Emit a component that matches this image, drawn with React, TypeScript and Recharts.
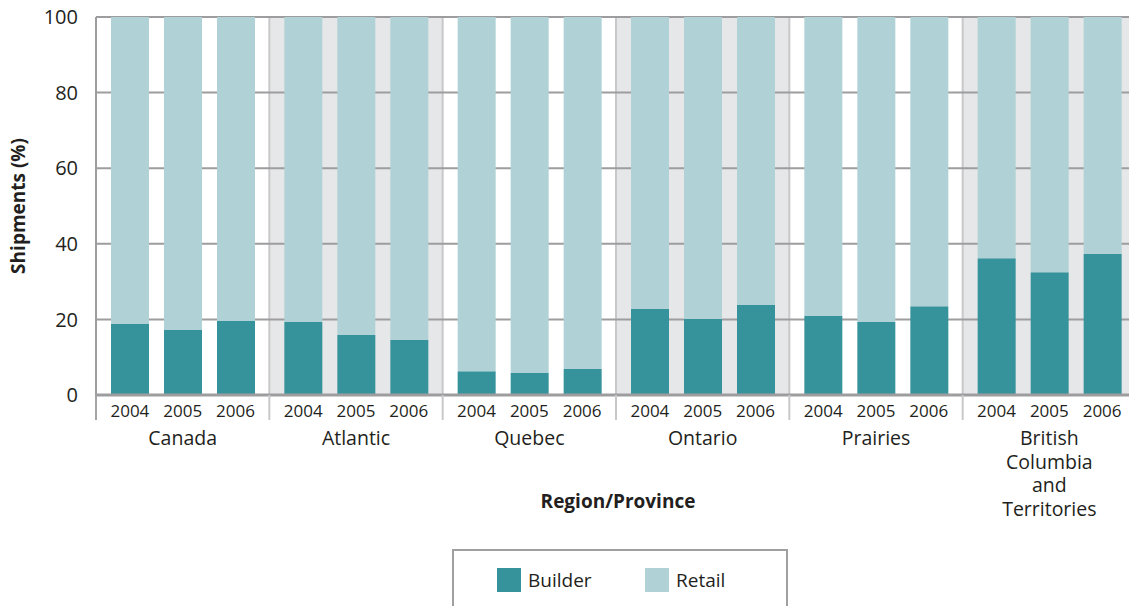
import React from "react";
import {
  BarChart,
  Bar,
  XAxis,
  YAxis,
  CartesianGrid,
  Legend,
  Label,
  ReferenceArea,
} from "recharts";

// values (percent of shipments)
const REGIONS = ["Canada", "Atlantic", "Quebec", "Ontario", "Prairies", "British Columbia and Territories"];
const REGION_LINES = [["Canada"], ["Atlantic"], ["Quebec"], ["Ontario"], ["Prairies"], ["British", "Columbia", "and", "Territories"]];
const YEARS = ["2004", "2005", "2006"];
const SHADED_REGIONS = ["Atlantic", "Ontario", "British Columbia and Territories"];

const BUILDER_2004 = [18.8, 19.3, 6.3, 22.8, 20.9, 36.2];
const BUILDER_2005 = [17.2, 15.9, 5.8, 20.1, 19.3, 32.5];
const BUILDER_2006 = [19.6, 14.6, 6.9, 23.8, 23.5, 37.3];
const RETAIL_2004 = [81.2, 80.7, 93.7, 77.2, 79.1, 63.8];
const RETAIL_2005 = [82.8, 84.1, 94.2, 79.9, 80.7, 67.5];
const RETAIL_2006 = [80.4, 85.4, 93.1, 76.2, 76.5, 62.7];

const Y_TICKS = [0, 20, 40, 60, 80, 100];

const BUILDER_COLOR = "#36939b";
const RETAIL_COLOR = "#b0d2d6";
const BAND_GREY = "#e6e7e8";
const TEXT = "#231f20";
const FONT = "'Open Sans', sans-serif";

// layout
const CHART_W = 1150;
const CHART_H = 620;
const MARGIN = { top: 17, right: 14, left: 26, bottom: 25 };
const Y_AXIS_W = 70;
const X_AXIS_H = 200;
const PLOT_LEFT = MARGIN.left + Y_AXIS_W;
const PLOT_W = CHART_W - PLOT_LEFT - MARGIN.right;
const BAND = PLOT_W / REGIONS.length;
const GAP = 15;
const BAR_W = (BAND - 4 * GAP) / YEARS.length;
const STEP = BAR_W + GAP;

const data = REGIONS.map((region, i) => ({
  region,
  b2004: BUILDER_2004[i],
  r2004: RETAIL_2004[i],
  b2005: BUILDER_2005[i],
  r2005: RETAIL_2005[i],
  b2006: BUILDER_2006[i],
  r2006: RETAIL_2006[i],
}));

// separators between regions
const groupEdges = REGIONS.map((_, i) => PLOT_LEFT + i * BAND);

const XTick = (props: any) => {
  const { x, y, index } = props;
  const lines = REGION_LINES[index] || [];
  return (
    <g>
      <line
        x1={x - BAND / 2}
        x2={x - BAND / 2}
        y1={y}
        y2={y + 25}
        stroke={index === 0 ? "#a4a4a6" : "#c8c8ca"}
        strokeWidth={2}
      />
      {YEARS.map((yr, i) => (
        <text
          key={yr}
          x={x + (i - 1) * STEP}
          y={y + 22}
          textAnchor="middle"
          fontSize={17}
          fill={TEXT}
          fontFamily={FONT}
        >
          {yr}
        </text>
      ))}
      {lines.map((ln, k) => (
        <text
          key={ln}
          x={x}
          y={y + 50 + k * 23.5}
          textAnchor="middle"
          fontSize={19.5}
          fill={TEXT}
          fontFamily={FONT}
        >
          {ln}
        </text>
      ))}
    </g>
  );
};

const LegendBox = (props: any) => {
  const seen: Record<string, boolean> = {};
  const items = (props.payload || []).filter((p: any) => {
    if (seen[p.value]) return false;
    seen[p.value] = true;
    return true;
  });
  return (
    <div
      style={{
        position: "relative",
        width: 336,
        height: 80,
        boxSizing: "border-box",
        border: "2.5px solid #a0a0a3",
        fontFamily: FONT,
      }}
    >
      {items.map((p: any, i: number) => (
        <div
          key={p.value}
          style={{
            position: "absolute",
            left: 43 + i * 148,
            top: 17,
            display: "flex",
            alignItems: "center",
            height: 24,
          }}
        >
          <span style={{ width: 24, height: 24, background: p.color, display: "inline-block" }} />
          <span style={{ marginLeft: 7, fontSize: 19, color: TEXT, lineHeight: "24px" }}>
            {p.value}
          </span>
        </div>
      ))}
    </div>
  );
};

export default function App() {
  return (
    <div
      style={{
        position: "fixed",
        left: 0,
        top: 0,
        width: 1129,
        height: 606,
        overflow: "hidden",
        background: "#fff",
      }}
    >
      <BarChart
        width={CHART_W}
        height={CHART_H}
        data={data}
        margin={MARGIN}
        barGap={GAP}
        barCategoryGap={GAP}
      >
        {SHADED_REGIONS.map((r) => (
          <ReferenceArea
            key={r}
            x1={r}
            x2={r}
            fill={BAND_GREY}
            fillOpacity={1}
            stroke="none"
            zIndex={-150}
          />
        ))}
        <CartesianGrid
          horizontal={false}
          verticalPoints={groupEdges}
          stroke="#c8c8ca"
          strokeWidth={2}
        />
        <CartesianGrid vertical={false} stroke="#9d9d9f" strokeWidth={2} />
        <XAxis
          dataKey="region"
          height={X_AXIS_H}
          interval={0}
          tickLine={false}
          tickSize={0}
          tickMargin={0}
          axisLine={{ stroke: "#9d9d9f", strokeWidth: 3 }}
          tick={<XTick />}
        >
          <Label
            content={() => (
              <text
                x={PLOT_LEFT + PLOT_W / 2 + 2}
                y={508}
                textAnchor="middle"
                fontSize={19}
                fontWeight="bold"
                fill={TEXT}
                fontFamily={FONT}
              >
                Region/Province
              </text>
            )}
          />
        </XAxis>
        <YAxis
          width={Y_AXIS_W}
          domain={[0, 100]}
          allowDataOverflow
          ticks={Y_TICKS}
          tickLine={false}
          tickSize={8}
          tickMargin={10}
          axisLine={{ stroke: "#9d9d9f", strokeWidth: 2 }}
          tick={{ fontSize: 20, fill: TEXT, fontFamily: FONT }}
        >
          <Label
            content={() => (
              <text
                x={25}
                y={206}
                transform="rotate(-90 25 206)"
                textAnchor="middle"
                fontSize={19}
                fontWeight="bold"
                fill={TEXT}
                fontFamily={FONT}
              >
                Shipments (%)
              </text>
            )}
          />
        </YAxis>
        <Legend
          layout="vertical"
          align="center"
          verticalAlign="middle"
          content={<LegendBox />}
          wrapperStyle={{ left: 452, top: 549, width: 336, height: 80 }}
        />
        <Bar dataKey="b2004" stackId="2004" name="Builder" fill={BUILDER_COLOR} isAnimationActive={false} />
        <Bar dataKey="r2004" stackId="2004" name="Retail" fill={RETAIL_COLOR} isAnimationActive={false} />
        <Bar dataKey="b2005" stackId="2005" name="Builder" fill={BUILDER_COLOR} isAnimationActive={false} />
        <Bar dataKey="r2005" stackId="2005" name="Retail" fill={RETAIL_COLOR} isAnimationActive={false} />
        <Bar dataKey="b2006" stackId="2006" name="Builder" fill={BUILDER_COLOR} isAnimationActive={false} />
        <Bar dataKey="r2006" stackId="2006" name="Retail" fill={RETAIL_COLOR} isAnimationActive={false} />
      </BarChart>
    </div>
  );
}
